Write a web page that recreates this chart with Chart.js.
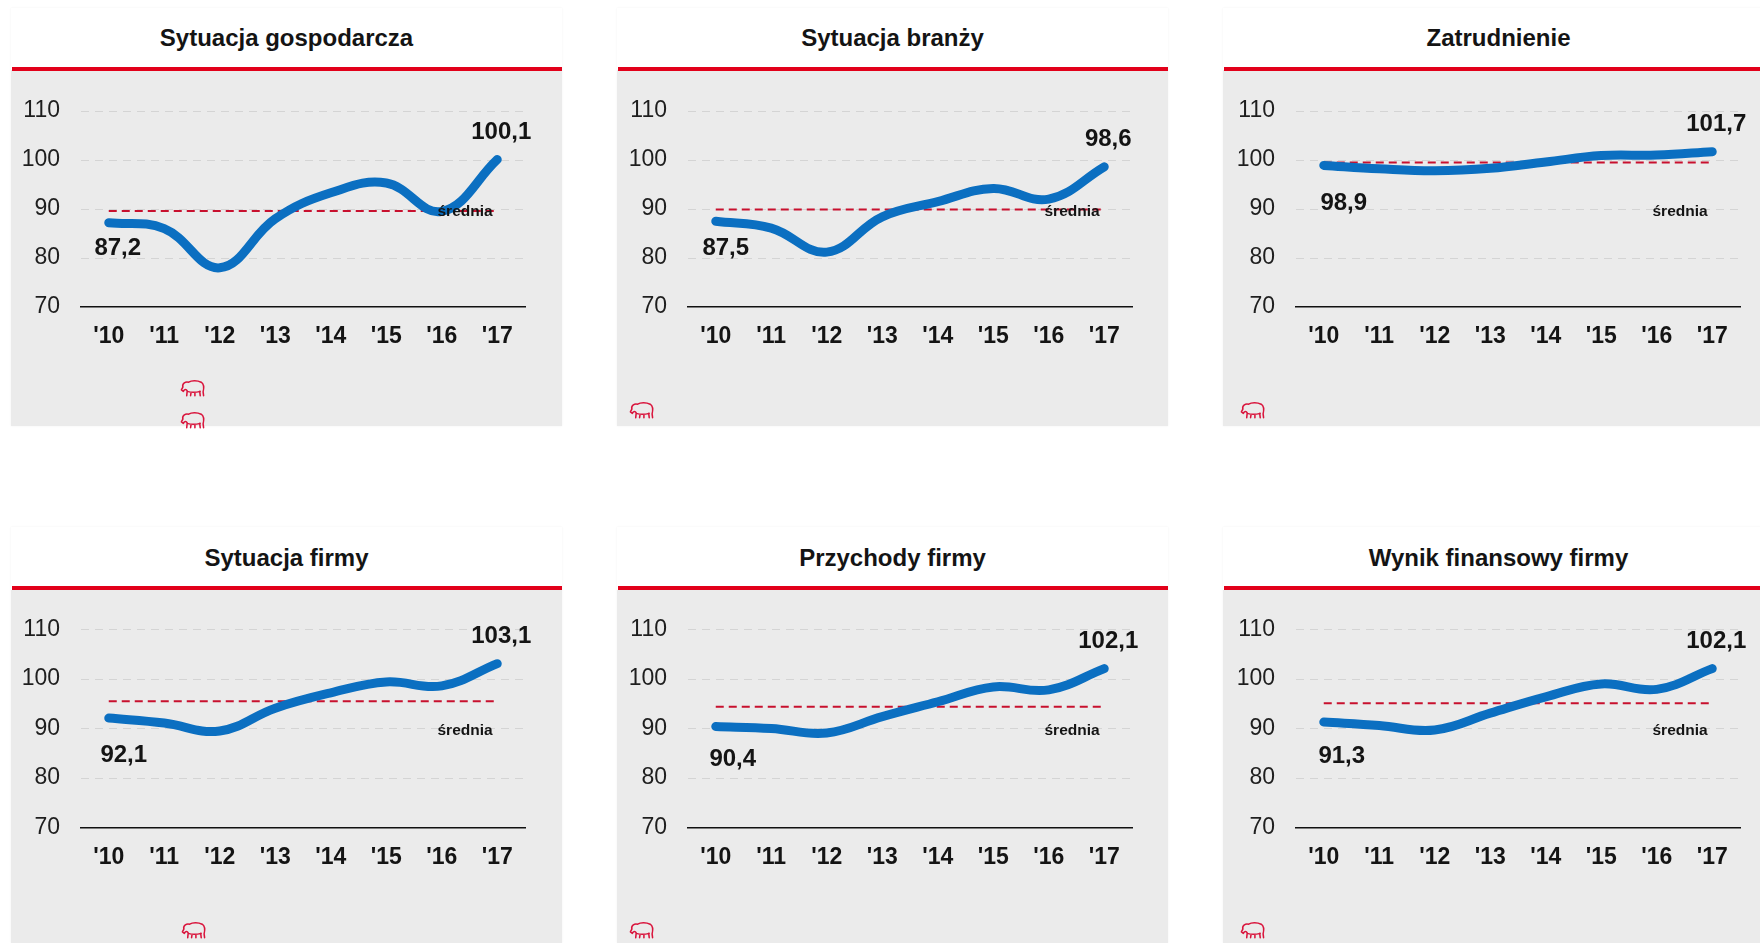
<!DOCTYPE html>
<html>
<head>
<meta charset="utf-8">
<script src="https://cdn.jsdelivr.net/npm/chart.js@4"></script>
<style>
html,body{margin:0;padding:0;background:#fff;width:1760px;height:943px;overflow:hidden;font-family:"Liberation Sans",Arial,sans-serif;}
#page{position:relative;width:1760px;height:943px;overflow:hidden;}
.ptitle{position:absolute;text-align:center;font-weight:bold;font-size:24px;color:#141414;height:30px;line-height:30px;white-space:nowrap;}
.pbar{position:absolute;height:4px;background:#e2001a;}
.pgray{position:absolute;background:#ebebeb;}
.pwhite{position:absolute;background:#fff;box-shadow:0 0 2px rgba(0,0,0,0.06);}
canvas{display:block;position:absolute;left:0;top:0;}
.logo{position:absolute;width:27px;height:18px;}
</style>
</head>
<body>
<div id="page"></div>
<script>
// ---------- DATA ----------
const years = ["'10", "'11", "'12", "'13", "'14", "'15", "'16", "'17"];
const yTicks = [70, 80, 90, 100, 110];

const titles = [
  "Sytuacja gospodarcza",
  "Sytuacja branży",
  "Zatrudnienie",
  "Sytuacja firmy",
  "Przychody firmy",
  "Wynik finansowy firmy"
];

const sytuacjaGospodarcza = [87.2, 86.0, 78.0, 88.0, 93.3, 95.3, 89.5, 100.1];
const sytuacjaBranzy      = [87.5, 86.1, 81.2, 88.4, 91.5, 94.2, 92.0, 98.6];
const zatrudnienie        = [98.9, 98.2, 97.8, 98.3, 99.6, 100.9, 101.0, 101.7];
const sytuacjaFirmy       = [92.1, 91.1, 89.5, 94.1, 97.2, 99.4, 98.6, 103.1];
const przychodyFirmy      = [90.4, 90.0, 89.1, 92.4, 95.4, 98.4, 97.8, 102.1];
const wynikFinansowy      = [91.3, 90.6, 89.7, 93.1, 96.4, 99.0, 97.9, 102.1];

const srednie = [89.6, 89.9, 99.5, 95.5, 94.4, 95.1];
const sredniaLabel = "średnia";

const seriesList = [sytuacjaGospodarcza, sytuacjaBranzy, zatrudnienie, sytuacjaFirmy, przychodyFirmy, wynikFinansowy];

// ---------- LAYOUT (positions / styles) ----------
const FONT = '"Liberation Sans", Arial, sans-serif';
const colLeft = [11, 617, 1223];
const panelW = 551;
const colChartLeft = [81, 688, 1296];
const colChartRight = [525, 1132, 1740];
const rows = [
  {panelTop: 8,   titleY: 38,  barTop: 66.5,  grayTop: 70,    grayBottom: 426, chartTop: 111, chartBottom: 307},
  {panelTop: 527, titleY: 558, barTop: 585.5, grayTop: 589.5, grayBottom: 943, chartTop: 629, chartBottom: 827}
];
const firstLabelOffset = [[9, 26], [10, 27], [20, 38], [15, 37], [17, 33], [18, 34]];
const lastLabelOffset = [4, -27];
const logoCenters = [
  [[192, 388], [192, 420]],
  [[641, 410]],
  [[1252, 410]],
  [[193, 930]],
  [[641, 930]],
  [[1252, 930]]
];

const bisonSVG = '<svg viewBox="0 0 28 18" width="27" height="18" xmlns="http://www.w3.org/2000/svg"><path d="M4 8 C3 4 7 2 10 3 C13 1 19 1 23 3 C26 5 26 9 25 13 L25.5 17 M4 8 L2.5 11 L4.5 12.5 C5.5 10 7.5 10 8.5 12 L8 17 M8.5 12.5 C12 13.5 18 13.5 22 12.5 M12.5 13.5 L12 17 M16.5 13.5 L16.5 17 M21.5 12.5 L22 17" fill="none" stroke="#d9143c" stroke-width="1.6" stroke-linecap="round" stroke-linejoin="round"/></svg>';

const labelPlugin = {
  id: 'panelLabels',
  afterDatasetsDraw(chart, args, opts) {
    const ctx = chart.ctx;
    const meta = chart.getDatasetMeta(0);
    const data = chart.data.datasets[0].data;
    const n = data.length;
    const fmt = v => v.toFixed(1).replace('.', ',');
    ctx.save();
    ctx.fillStyle = '#141414';
    ctx.textAlign = 'center';
    ctx.textBaseline = 'middle';
    ctx.font = 'bold 24px ' + FONT;
    const p0 = meta.data[0], pn = meta.data[n - 1];
    ctx.fillText(fmt(data[0]), p0.x + opts.firstDx, p0.y + opts.firstDy);
    ctx.fillText(fmt(data[n - 1]), pn.x + opts.lastDx, pn.y + opts.lastDy);
    ctx.font = 'bold 15.5px ' + FONT;
    const x = chart.scales.x.getPixelForValue(opts.avgLabelIndex);
    const y = chart.scales.y.getPixelForValue(opts.avgLabelValue);
    ctx.fillText(sredniaLabel, x, y);
    ctx.restore();
  }
};

const page = document.getElementById('page');

seriesList.forEach((series, i) => {
  const col = i % 3, row = rows[Math.floor(i / 3)];
  const left = colLeft[col];

  const white = document.createElement('div');
  white.className = 'pwhite';
  Object.assign(white.style, {left: left + 'px', top: row.panelTop + 'px', width: panelW + 'px', height: (row.grayBottom - row.panelTop) + 'px'});
  page.appendChild(white);

  const title = document.createElement('div');
  title.className = 'ptitle';
  title.textContent = titles[i];
  Object.assign(title.style, {left: left + 'px', width: panelW + 'px', top: (row.titleY - 15) + 'px'});
  page.appendChild(title);

  const gray = document.createElement('div');
  gray.className = 'pgray';
  const gh = row.grayBottom - row.grayTop;
  Object.assign(gray.style, {left: left + 'px', top: row.grayTop + 'px', width: panelW + 'px', height: gh + 'px'});
  page.appendChild(gray);

  const bar = document.createElement('div');
  bar.className = 'pbar';
  Object.assign(bar.style, {left: (left + 1) + 'px', top: row.barTop + 'px', width: (panelW - 1) + 'px'});
  page.appendChild(bar);

  logoCenters[i].forEach(c => {
    const lg = document.createElement('div');
    lg.className = 'logo';
    lg.innerHTML = bisonSVG;
    Object.assign(lg.style, {left: (c[0] - 13.5) + 'px', top: (c[1] - 9) + 'px'});
    page.appendChild(lg);
  });

  const canvas = document.createElement('canvas');
  const ch = Math.round(gh);
  canvas.width = panelW; canvas.height = ch;
  canvas.style.width = panelW + 'px'; canvas.style.height = ch + 'px';
  gray.appendChild(canvas);

  const chartLeft = colChartLeft[col] - left;
  const chartRight = colChartRight[col] - left;
  const chartTop = row.chartTop - row.grayTop;
  const chartBottom = row.chartBottom - row.grayTop;

  new Chart(canvas.getContext('2d'), {
    type: 'line',
    data: {
      labels: years,
      datasets: [
        {
          data: series,
          borderColor: '#0b6fc1',
          borderWidth: 9,
          borderCapStyle: 'round',
          borderJoinStyle: 'round',
          pointRadius: 0,
          tension: 0.4,
          fill: false,
          clip: false,
          order: 0
        },
        {
          data: years.map(() => srednie[i]),
          borderColor: '#c8102e',
          borderWidth: 2,
          borderDash: [8, 5],
          pointRadius: 0,
          tension: 0,
          fill: false,
          clip: false,
          order: 1
        }
      ]
    },
    options: {
      responsive: false,
      animation: false,
      events: [],
      layout: {padding: {left: 0, top: chartTop, right: panelW - chartRight, bottom: 0}},
      plugins: {
        legend: {display: false},
        tooltip: {enabled: false},
        title: {display: false},
        panelLabels: {
          firstDx: firstLabelOffset[i][0], firstDy: firstLabelOffset[i][1],
          lastDx: lastLabelOffset[0], lastDy: lastLabelOffset[1],
          avgLabelIndex: 6.42, avgLabelValue: 89.5
        }
      },
      scales: {
        x: {
          type: 'category',
          offset: true,
          grid: {display: false, drawTicks: false},
          border: {display: true, color: '#111', width: 1.6},
          ticks: {color: '#141414', font: {family: FONT, size: 23, weight: 'bold'}, padding: 16, maxRotation: 0, autoSkip: false},
          afterFit: s => { s.height = ch - chartBottom; }
        },
        y: {
          min: yTicks[0],
          max: yTicks[yTicks.length - 1],
          afterBuildTicks: s => { s.ticks = yTicks.map(v => ({value: v})); },
          grid: {
            drawTicks: false,
            color: c => (c.tick && c.tick.value === yTicks[0]) ? 'rgba(0,0,0,0)' : '#d4d4d4',
            lineWidth: 1
          },
          border: {display: false, dash: [8, 6]},
          ticks: {color: '#1e1e1e', font: {family: FONT, size: 23}, padding: 21},
          afterFit: s => { s.width = chartLeft; }
        }
      }
    },
    plugins: [labelPlugin]
  });
});
</script>
</body>
</html>
